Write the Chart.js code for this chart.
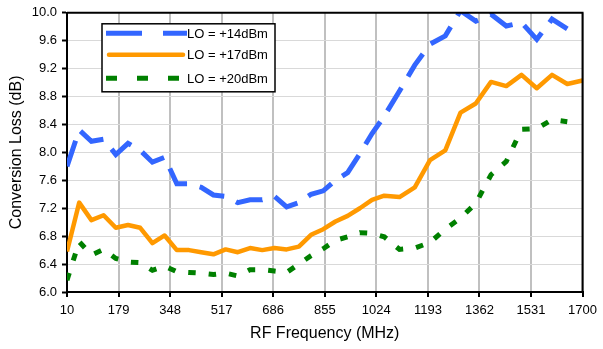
<!DOCTYPE html>
<html lang="en">
<head>
<meta charset="UTF-8">
<title>Conversion Loss vs RF Frequency</title>
<style>
    body {
        margin: 0;
        padding: 0;
        background-color: #fff;
    }

    #lossChart {
        display: block;
    }
</style>
</head>
<body>
<canvas id="lossChart" width="603" height="349"></canvas>
<script src="https://cdn.jsdelivr.net/npm/chart.js"></script>
<script>
    // RF frequency points (MHz)
    const rfFreq = [10, 50, 90, 130, 170, 210, 250, 290, 330, 370, 410, 450, 490, 530, 570, 610, 650, 690, 730, 770,
        810, 850, 890, 930, 970, 1010, 1050, 1100, 1150, 1200, 1250, 1300, 1350, 1400, 1450, 1500, 1550, 1600, 1650, 1700];

    // conversion loss (dB) for each LO drive level
    const lossLo14 = [7.80, 8.32, 8.16, 8.19, 7.97, 8.13, 8.03, 7.86, 7.93, 7.55, 7.55, 7.50, 7.39, 7.37, 7.28, 7.32, 7.32, 7.37, 7.22, 7.28,
        7.40, 7.45, 7.60, 7.71, 7.98, 8.27, 8.52, 8.88, 9.25, 9.55, 9.67, 10.03, 9.88, 9.98, 9.81, 9.86, 9.62, 9.91, 9.77];
    const lossLo17 = [6.58, 7.28, 7.03, 7.10, 6.92, 6.96, 6.92, 6.70, 6.81, 6.60, 6.60, 6.57, 6.54, 6.61, 6.57, 6.63, 6.60, 6.63, 6.61, 6.65,
        6.82, 6.90, 7.01, 7.09, 7.20, 7.32, 7.38, 7.36, 7.50, 7.89, 8.03, 8.57, 8.70, 9.01, 8.95, 9.11, 8.92, 9.11, 8.98, 9.03];
    const lossLo20 = [6.17, 6.72, 6.53, 6.61, 6.48, 6.43, 6.42, 6.31, 6.37, 6.29, 6.28, 6.27, 6.25, 6.27, 6.23, 6.32, 6.32, 6.30, 6.28, 6.40,
        6.52, 6.62, 6.74, 6.79, 6.85, 6.84, 6.79, 6.61, 6.63, 6.71, 6.90, 7.06, 7.27, 7.68, 7.87, 8.33, 8.34, 8.47, 8.44];

    const seriesNames = ['LO = +14dBm', 'LO = +17dBm', 'LO = +20dBm'];
    const xTicks = [10, 179, 348, 517, 686, 855, 1024, 1193, 1362, 1531, 1700];

    const FONT = '"Liberation Sans", Arial, sans-serif';

    function toPoints(values) {
        return values.map((v, i) => ({x: rfFreq[i], y: v}));
    }

    // black frame on the top and right of the plot area
    const plotFrame = {
        id: 'plotFrame',
        afterDatasetsDraw(chart) {
            const {ctx, chartArea} = chart;
            ctx.save();
            ctx.strokeStyle = '#000';
            ctx.lineWidth = 2;
            ctx.beginPath();
            ctx.moveTo(chartArea.left, chartArea.top);
            ctx.lineTo(chartArea.right, chartArea.top);
            ctx.lineTo(chartArea.right, chartArea.bottom);
            ctx.stroke();
            ctx.restore();
        }
    };

    // legend box drawn inside the plot, upper left
    const boxLegend = {
        id: 'boxLegend',
        afterDraw(chart) {
            const {ctx, chartArea} = chart;
            const x0 = chartArea.left + 35;
            const y0 = chartArea.top + 11;
            const rows = [9.5, 31, 54.5];
            ctx.save();
            ctx.fillStyle = '#fff';
            ctx.fillRect(x0, y0, 173, 68);
            ctx.strokeStyle = '#000';
            ctx.lineWidth = 1.5;
            ctx.strokeRect(x0, y0, 173, 68);

            chart.data.datasets.forEach((ds, i) => {
                const y = y0 + rows[i];
                ctx.beginPath();
                ctx.strokeStyle = ds.borderColor;
                ctx.lineWidth = ds.borderWidth;
                ctx.lineCap = ds.legendCap;
                ctx.setLineDash(ds.legendDash);
                ctx.moveTo(x0 + ds.legendFrom, y);
                ctx.lineTo(x0 + ds.legendTo, y);
                ctx.stroke();
                ctx.setLineDash([]);

                ctx.fillStyle = '#000';
                ctx.font = '13px ' + FONT;
                ctx.textBaseline = 'middle';
                ctx.fillText(ds.label, x0 + 85, y + 1);
            });
            ctx.restore();
        }
    };

    new Chart(document.getElementById('lossChart'), {
        type: 'line',
        data: {
            datasets: [
                {
                    label: seriesNames[0],
                    data: toPoints(lossLo14),
                    borderColor: '#3366ff',
                    borderWidth: 5,
                    borderDash: [27, 13],
                    legendDash: [36, 21],
                    legendCap: 'butt',
                    legendFrom: 4,
                    legendTo: 85
                },
                {
                    label: seriesNames[1],
                    data: toPoints(lossLo17),
                    borderColor: '#ff9900',
                    borderWidth: 4.5,
                    borderJoinStyle: 'round',
                    legendDash: [],
                    legendCap: 'round',
                    legendFrom: 7,
                    legendTo: 81
                },
                {
                    label: seriesNames[2],
                    data: toPoints(lossLo20),
                    borderColor: '#008000',
                    borderWidth: 5,
                    borderDash: [7.5, 13],
                    legendDash: [11, 20],
                    legendCap: 'butt',
                    legendFrom: 4,
                    legendTo: 85
                }
            ]
        },
        options: {
            responsive: false,
            animation: false,
            clip: 0,
            elements: {
                point: {radius: 0},
                line: {tension: 0, fill: false}
            },
            layout: {
                padding: {top: 12, right: 16, left: 0, bottom: 0}
            },
            plugins: {
                legend: {display: false},
                tooltip: {enabled: false}
            },
            scales: {
                x: {
                    type: 'linear',
                    min: 10,
                    max: 1700,
                    afterBuildTicks: scale => {
                        scale.ticks = xTicks.map(v => ({value: v}));
                    },
                    afterFit: scale => {
                        scale.height = 57;
                    },
                    ticks: {
                        color: '#000',
                        font: {family: FONT, size: 13},
                        padding: 6,
                        maxRotation: 0,
                        callback: v => String(v)
                    },
                    grid: {
                        color: '#c0c0c0',
                        lineWidth: 2,
                        tickLength: 5,
                        tickColor: '#000',
                        tickWidth: 2
                    },
                    border: {color: '#000', width: 2},
                    title: {
                        display: true,
                        text: 'RF Frequency (MHz)',
                        color: '#000',
                        font: {family: FONT, size: 16},
                        padding: {top: 6, bottom: 6}
                    }
                },
                y: {
                    min: 6,
                    max: 10,
                    ticks: {
                        stepSize: 0.4,
                        color: '#000',
                        font: {family: FONT, size: 13},
                        padding: 5,
                        callback: v => v.toFixed(1)
                    },
                    afterFit: scale => {
                        scale.width = 67;
                    },
                    grid: {
                        color: '#d9d9d9',
                        lineWidth: 1,
                        tickLength: 5,
                        tickColor: '#000',
                        tickWidth: 2
                    },
                    border: {color: '#000', width: 2},
                    title: {
                        display: true,
                        text: 'Conversion Loss (dB)',
                        color: '#000',
                        font: {family: FONT, size: 16},
                        padding: {top: 7, bottom: 7}
                    }
                }
            }
        },
        plugins: [plotFrame, boxLegend]
    });
</script>
</body>
</html>
